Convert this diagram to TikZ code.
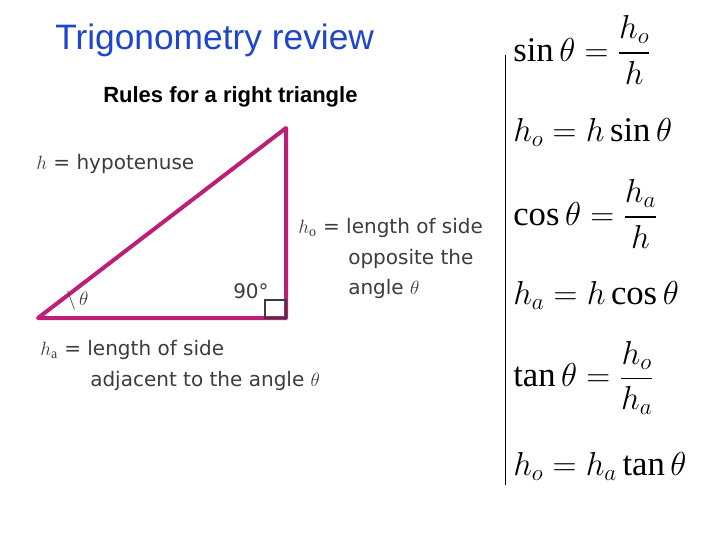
\documentclass[tikz,border=0pt]{standalone}
\usepackage{amsmath}
\usepackage{fontspec}
\setmainfont{Liberation Serif}
\setsansfont{Liberation Sans}
\newfontfamily\lab{DejaVu Sans}
\definecolor{tri}{RGB}{190,30,120}
\definecolor{ttl}{RGB}{30,70,200}
\definecolor{lg}{RGB}{60,60,60}
\begin{document}
\begin{tikzpicture}[x=0.75pt,y=-0.75pt,
  lbl/.style={anchor=west,inner sep=0,text=lg,font=\lab\fontsize{15}{23}\selectfont,align=left},
  eq/.style={anchor=west,inner sep=0,font=\fontsize{26}{29}\selectfont}]
\useasboundingbox (0,0) rectangle (720,540);
\node[anchor=west,inner sep=0,text=ttl,font=\sffamily\fontsize{26.5}{30}\selectfont] (title) at (55,40) {Trigonometry review};
\node[anchor=west,inner sep=0,font=\sffamily\bfseries\fontsize{16.5}{19}\selectfont] (rules) at (103,97) {Rules for a right triangle};
\coordinate (A) at (38,318); \coordinate (B) at (286,128); \coordinate (C) at (286,318);
\draw[tri,line width=3pt,line join=round] (A) -- (B) -- (C) -- cycle;
\draw[lg,line width=0.8pt] (265,300) rectangle (286,318);
\node[lbl] (hyp) at (36,164) {$h$ = hypotenuse};
\node[lbl,anchor=north west] (ho) at (298,218) {$h_{\mathrm o}$ = length of side\\\hspace{2.5em}opposite the\\\hspace{2.5em}angle $\theta$};
\node[lbl] (ang) at (233,291) {90°};
\node[lbl] (th) at (66,301) {$\backslash\,\theta$};
\node[lbl,anchor=north west] (ha) at (40,340) {$h_{\mathrm a}$ = length of side\\\hspace{2.5em}adjacent to the angle $\theta$};
\draw[line width=0.6pt] (505,55) -- (505,485);
\node[eq] (e1) at (513,50) {$\sin\theta=\dfrac{h_o}{h}$};
\node[eq] (e2) at (513,132) {$h_o=h\sin\theta$};
\node[eq] (e3) at (513,214) {$\cos\theta=\dfrac{h_a}{h}$};
\node[eq] (e4) at (513,295) {$h_a=h\cos\theta$};
\node[eq] (e5) at (513,378) {$\tan\theta=\dfrac{h_o}{h_a}$};
\node[eq] (e6) at (513,466) {$h_o=h_a\tan\theta$};
\end{tikzpicture}
\end{document}
